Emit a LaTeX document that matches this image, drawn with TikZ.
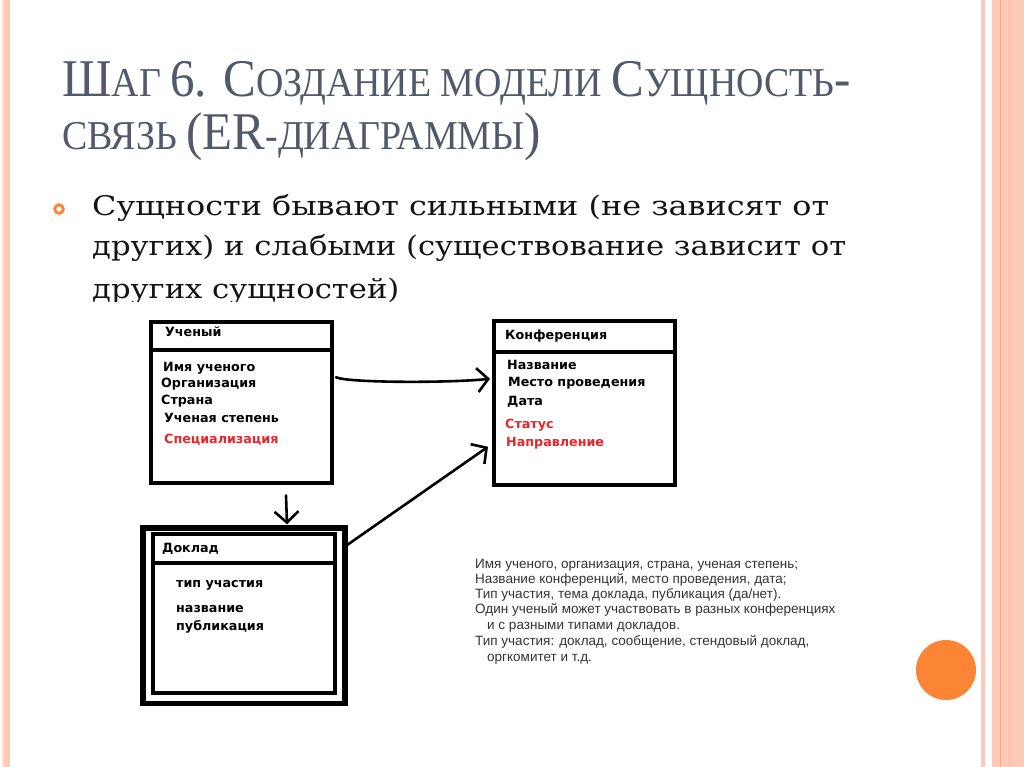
\documentclass[tikz,border=0pt]{standalone}
\usepackage{fontspec}
\setmainfont{Liberation Serif}
\newfontfamily\titlefont{Liberation Serif}
\newfontfamily\bulletfont{DejaVu Serif}
\newfontfamily\boxfont{DejaVu Sans}
\newfontfamily\notefont{Liberation Sans}
\usetikzlibrary{arrows.meta}
\definecolor{peach}{HTML}{FCCAB6}
\definecolor{peachdark}{HTML}{F3A888}
\definecolor{orangeb}{HTML}{FB8435}
\definecolor{titlegray}{HTML}{505A6A}
\definecolor{erred}{HTML}{E8262B}
\definecolor{notegray}{HTML}{333333}
\newcommand\bigC[1]{{\fontsize{53}{53}\selectfont #1}}
\newcommand\smC[1]{{\fontsize{41}{41}\selectfont #1}}
\tikzset{
  entity/.style={draw=black, line width=4pt, fill=white, inner sep=0pt, anchor=center},
  divider/.style={draw=black, line width=4pt},
  attr/.style={anchor=base west, inner sep=0pt, font=\boxfont\bfseries\fontsize{12.7}{14}\selectfont},
  redattr/.style={attr, text=erred},
  note/.style={anchor=base west, inner sep=0pt, text=notegray, font=\notefont\fontsize{13.5}{15}\selectfont},
  conn/.style={draw=black, line width=2.6pt, line cap=round, -{Straight Barb[length=11pt,width=24pt]}},
  titletext/.style={anchor=base west, inner sep=0pt, text=titlegray, font=\titlefont\fontsize{41}{41}\selectfont},
  bullettext/.style={anchor=base west, inner sep=0pt, text=black!92, font=\bulletfont\fontsize{27}{32}\selectfont},
}
\newcommand\titlescale[1]{\scalebox{0.925}[1]{#1}}
\begin{document}
\begin{tikzpicture}[x=1pt,y=-1pt]
\useasboundingbox (0,0) rectangle (1024,767);
\fill[white] (0,0) rectangle (1024,767);
% side stripes
\fill[peach!60] (2,0) rectangle (4,767);
\fill[peach] (4,0) rectangle (10,767);
\fill[peach] (981,0) rectangle (985,767);
\fill[peach] (992,0) rectangle (1024,767);
\fill[peachdark] (999.5,0) rectangle (1000.8,767);
\fill[peach!80!peachdark] (1008,0) rectangle (1012,767);
% title
\node[titletext] (t1) at (62,97) {\titlescale{\bigC{Ш}\smC{АГ} \bigC{6. С}\smC{ОЗДАНИЕ МОДЕЛИ} \bigC{С}\smC{УЩНОСТЬ}\bigC{-}}};
\node[titletext] (t2) at (62,150) {\titlescale{\smC{СВЯЗЬ} \bigC{(ER}\smC{-ДИАГРАММЫ}\bigC{)}}};
% bullet
\draw[orangeb, line width=2.8pt] (59,209) circle (4.3);
\node[bullettext] (b1) at (92,215) {\scalebox{1.18}[1]{Сущности бывают сильными (не зависят от}};
\node[bullettext] (b2) at (92,255) {\scalebox{1.135}[1]{других) и слабыми (существование зависит от}};
\node[bullettext] (b3) at (92,298) {\scalebox{1.135}[1]{других сущностей)}};
% pasted picture background (covers the bottom of the third line)
\fill[white] (85,302) rectangle (870,715);
% entity Ученый
\node[entity, minimum width=181pt, minimum height=160.5pt] (u) at (241.5,402.25) {};
\draw[divider] ([yshift=-29.5pt]u.north west) -- ([yshift=-29.5pt]u.north east);
\node[attr] (u0) at (165,336) {Ученый};
\node[attr] (u1) at (163,371) {Имя ученого};
\node[attr] (u2) at (161,387) {Организация};
\node[attr] (u3) at (161,404) {Страна};
\node[attr] (u4) at (164,422) {Ученая степень};
\node[redattr] (u5) at (164,443) {Специализация};
% entity Конференция
\node[entity, minimum width=180.5pt, minimum height=163.5pt] (k) at (584.25,402.75) {};
\draw[divider] ([yshift=-32.5pt]k.north west) -- ([yshift=-32.5pt]k.north east);
\node[attr] (k0) at (505,339) {Конференция};
\node[attr] (k1) at (507,369) {Название};
\node[attr] (k2) at (508,386) {Место проведения};
\node[attr] (k3) at (507,405) {Дата};
\node[redattr] (k4) at (505,428) {Статус};
\node[redattr] (k5) at (506,446) {Направление};
% weak entity Доклад
\node[entity, line width=5.5pt, minimum width=202pt, minimum height=175.5pt] (d) at (244,615.75) {};
\node[entity, minimum width=181.5pt, minimum height=158.5pt] (di) at (243.75,613.25) {};
\draw[divider] ([yshift=-31pt]di.north west) -- ([yshift=-31pt]di.north east);
\node[attr] (d0) at (162,552) {Доклад};
\node[attr] (d1) at (176,587) {тип участия};
\node[attr] (d2) at (176,612) {название};
\node[attr] (d3) at (176,630) {публикация};
% connectors
\draw[conn] ([yshift=25pt,xshift=2pt]u.east) .. controls (348,383) and (450,383) .. ([yshift=24pt,xshift=-2pt]k.west);
\draw[conn] ([yshift=-20pt,xshift=-1pt]d.north east) -- ([yshift=-44pt,xshift=-4pt]k.west);
\draw[conn] ([xshift=44.5pt,yshift=-11pt]u.south) -- ([xshift=43pt,yshift=1pt]d.north);
% notes
\node[note] (n1) at (475,568) {Имя ученого, организация, страна, ученая степень;};
\node[note] (n2) at (475,583) {Название конференций, место проведения, дата;};
\node[note] (n3) at (475,598) {Тип участия, тема доклада, публикация (да/нет).};
\node[note] (n4) at (475,613) {Один ученый может участвовать в разных конференциях};
\node[note] (n5) at (487,629) {и с разными типами докладов.};
\node[note] (n6) at (475,645) {Тип участия: доклад, сообщение, стендовый доклад,};
\node[note] (n7) at (487,661) {оргкомитет и т.д.};
% decorative circle
\fill[orangeb] (946,670) ellipse (30 and 30);
\end{tikzpicture}
\end{document}
